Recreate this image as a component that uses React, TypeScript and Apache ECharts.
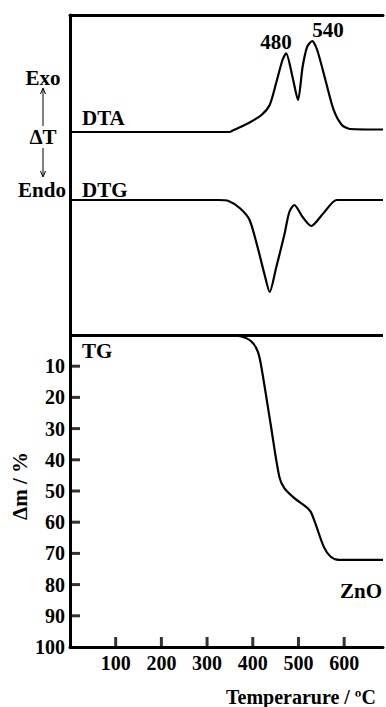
import React, { useEffect, useRef } from "react";
import * as echarts from "echarts";

// ---- Data ----
// DTA: temperature (°C) and signal (a.u., deflection above its baseline)
const dtaTemp = [0, 350, 354, 390, 419, 437, 451, 465, 473, 487, 499, 509, 519, 530, 541, 559, 577, 595, 613, 685];
const dtaSignal = [0, 0, 1, 8.7, 17, 27, 48.7, 72, 78.7, 55, 32, 65, 85, 91, 82, 52, 22, 7, 3, 2.5];

// DTG: temperature (°C) and signal (a.u., deflection relative to its baseline)
const dtgTemp = [0, 325, 347, 372, 393, 411, 426, 437, 451, 469, 480, 491, 509, 528, 555, 584, 685];
const dtgSignal = [0, 0, -1, -8.3, -20, -48, -75, -92, -68, -35, -12, -5, -17, -26, -13, 0, 0];

// TG: temperature (°C) and mass loss Δm (%)
const tgTemp = [0, 347, 375, 397, 411, 418.6, 438.8, 458, 469, 491, 516, 526.6, 537, 555.5, 570, 588, 685];
const tgLoss = [0, 0, 0.5, 2.1, 5.3, 10.1, 28.3, 45.4, 49.1, 52.3, 55, 56.6, 60.4, 67.9, 71, 72.1, 72.1];

// Axis ticks
const tempTicks = [100, 200, 300, 400, 500, 600];
const massTicks = [10, 20, 30, 40, 50, 60, 70, 80, 90, 100];

// Peak annotations
const peakLabels = ["480", "540"];

const X_MAX = 685;
const Y_TOP = -102.56; // upper (DTA/DTG) panel sits above Δm = 0 on the same scale
const DTA_BASE = 203; // a.u. above the panel split
const DTG_BASE = 135;
const AU_TO_PCT = 100 / 312;

const FONT_FAMILY = '"Liberation Serif", "Times New Roman", serif';
const FONT = `bold 21px ${FONT_FAMILY}`;

function upper(xs: number[], ys: number[], base: number) {
  return xs.map((x, i) => [x, -(base + ys[i]) * AU_TO_PCT]);
}

export default function App() {
  const ref = useRef<HTMLDivElement>(null);

  useEffect(() => {
    if (!ref.current) return;
    const chart = echarts.init(ref.current, null, { renderer: "svg" });

    const line = { color: "#000", width: 3 };
    const labelStyle = {
      fontFamily: FONT_FAMILY,
      fontWeight: "bold" as const,
      fontSize: 20,
      color: "#000",
    };

    const text = (t: string, x: number, y: number, align = "left", font = FONT) => ({
      type: "text",
      x,
      y,
      style: {
        text: t,
        x: 0,
        y: 0,
        font,
        fill: "#000",
        textAlign: align,
        align,
        textVerticalAlign: "middle",
        verticalAlign: "middle",
      },
    });

    const option: any = {
      animation: false,
      grid: { left: 70, top: 15, right: 0, bottom: 60 },
      xAxis: [
        {
          type: "value",
          min: 0,
          max: X_MAX,
          interval: 100,
          position: "bottom",
          axisLine: { show: true, onZero: false, lineStyle: line },
          axisTick: { show: false },
          axisLabel: {
            ...labelStyle,
            margin: 6,
            formatter: (v: number) => (tempTicks.includes(v) ? String(v) : ""),
          },
          splitLine: { show: false },
        },
        {
          type: "value",
          min: 0,
          max: X_MAX,
          position: "top",
          axisLine: { show: true, onZero: false, lineStyle: line },
          axisTick: { show: false },
          axisLabel: { show: false },
          splitLine: { show: false },
        },
      ],
      yAxis: {
        type: "value",
        inverse: true,
        min: Y_TOP,
        max: 100,
        axisLine: { show: true, onZero: false, lineStyle: line },
        axisTick: { show: false },
        axisLabel: {
          ...labelStyle,
          margin: 5,
          customValues: massTicks,
          formatter: (v: number) => (massTicks.includes(v) ? String(v) : ""),
        },
        splitLine: { show: false },
      },
      series: [
        {
          name: "DTA",
          type: "line",
          xAxisIndex: 0,
          data: upper(dtaTemp, dtaSignal, DTA_BASE),
          showSymbol: false,
          smooth: 0.25,
          lineStyle: { color: "#000", width: 2.2 },
        },
        {
          name: "DTG",
          type: "line",
          xAxisIndex: 0,
          data: upper(dtgTemp, dtgSignal, DTG_BASE),
          showSymbol: false,
          smooth: 0.25,
          lineStyle: { color: "#000", width: 2.2 },
        },
        {
          name: "TG",
          type: "line",
          xAxisIndex: 0,
          data: tgTemp.map((t, i) => [t, tgLoss[i]]),
          showSymbol: false,
          smooth: 0.3,
          lineStyle: { color: "#000", width: 2.2 },
          markLine: {
            silent: true,
            symbol: ["none", "none"],
            label: { show: false },
            lineStyle: { color: "#000", width: 3, type: "solid" },
            data: [{ yAxis: 0 }],
          },
        },
        {
          // inward tick marks of the temperature axis
          name: "xTicks",
          type: "scatter",
          xAxisIndex: 0,
          clip: false,
          silent: true,
          symbol: "rect",
          symbolSize: [3, 10],
          symbolOffset: [0, -5],
          itemStyle: { color: "#000" },
          data: tempTicks.map((t) => [t, 100]),
        },
        {
          // inward tick marks of the Δm axis
          name: "yTicks",
          type: "scatter",
          xAxisIndex: 0,
          clip: false,
          silent: true,
          symbol: "rect",
          symbolSize: [10, 3],
          symbolOffset: [5, 0],
          itemStyle: { color: "#000" },
          data: massTicks.filter((v) => v < 100).map((v) => [0, v]),
        },
      ],
      graphic: [
        text(peakLabels[0], 276, 42, "center"),
        text(peakLabels[1], 328, 30, "center"),
        text("DTA", 82, 118),
        text("DTG", 82, 190),
        text("TG", 82, 351),
        text("ZnO", 340, 591),
        text("Exo", 43, 78, "center"),
        text("ΔT", 43, 137, "center"),
        text("Endo", 42, 190, "center"),
        {
          type: "line",
          shape: { x1: 43, y1: 89, x2: 43, y2: 126 },
          style: { stroke: "#000", lineWidth: 1 },
        },
        {
          type: "polyline",
          shape: { points: [[40.5, 94], [43, 88], [45.5, 94]] },
          style: { stroke: "#000", lineWidth: 1, fill: null },
        },
        {
          type: "line",
          shape: { x1: 43, y1: 148, x2: 43, y2: 176 },
          style: { stroke: "#000", lineWidth: 1 },
        },
        {
          type: "polyline",
          shape: { points: [[40.5, 171], [43, 177], [45.5, 171]] },
          style: { stroke: "#000", lineWidth: 1, fill: null },
        },
        {
          type: "text",
          x: 20,
          y: 486,
          rotation: Math.PI / 2,
          style: {
            text: "Δm / %",
            x: 0,
            y: 0,
            font: FONT,
            fill: "#000",
            textAlign: "center",
            align: "center",
            textVerticalAlign: "middle",
            verticalAlign: "middle",
          },
        },
        text("Temperarure / ºC", 226, 697, "left", `bold 20px ${FONT_FAMILY}`),
      ],
    };

    chart.setOption(option);
    return () => chart.dispose();
  }, []);

  return (
    <div
      ref={ref}
      style={{ position: "fixed", left: 0, top: 0, width: 386, height: 707, background: "#fff" }}
    />
  );
}
